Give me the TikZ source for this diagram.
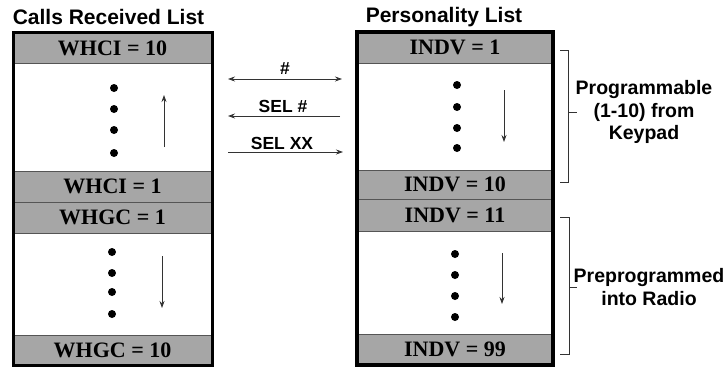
\documentclass[tikz,border=0pt]{standalone}
\usepackage{fontspec}
\setmainfont{Liberation Serif}
\setsansfont{Liberation Sans}
\usetikzlibrary{arrows.meta}
\definecolor{bandgray}{HTML}{A6A6A6}
\definecolor{sepgray}{HTML}{555555}
\begin{document}
\begin{tikzpicture}[x=1pt, y=-1pt]
	\tikzset{band/.style={draw=sepgray, thin, fill=bandgray, inner sep=0pt, font=\fontsize{22}{24}\selectfont\bfseries},
		ttl/.style={font=\fontsize{21}{24}\selectfont\sffamily\bfseries, inner sep=0pt},
		lbl/.style={font=\fontsize{17.5}{20}\selectfont\sffamily\bfseries, inner sep=0pt},
		note/.style={font=\fontsize{19.5}{22.5}\selectfont\sffamily\bfseries, align=center, inner sep=0pt},
		dt/.style={circle, fill=black, inner sep=0pt, minimum size=8pt},
		arr/.style={draw=black!80, line width=0.8pt, -{Stealth[length=7pt, width=5pt]}},
		brk/.style={draw=black!80, line width=0.8pt}};

	\useasboundingbox (0, 0) rectangle (725, 367);

	% titles
	\node[ttl] (calls) at (108.5, 17) {Calls Received List};
	\node[ttl] (pers) at (444, 17) {Personality List};

	% left list
	\node[band, minimum width=199pt, minimum height=30pt] (whci10) at (112.5, 48) {WHCI = 10};
	\node[band, minimum width=199pt, minimum height=31pt] (whci1) at (112.5, 186.5) {WHCI = 1};
	\node[band, minimum width=199pt, minimum height=31pt] (whgc1) at (112.5, 217.5) {WHGC = 1};
	\node[band, minimum width=199pt, minimum height=30pt] (whgc10) at (112.5, 350) {WHGC = 10};
	\draw[line width=3pt] (13, 32) rectangle (212, 365);

	% right list
	\node[band, minimum width=196pt, minimum height=31pt] (indv1) at (455, 47.5) {INDV = 1};
	\node[band, minimum width=196pt, minimum height=29pt] (indv10) at (455, 184.5) {INDV = 10};
	\node[band, minimum width=196pt, minimum height=32pt] (indv11) at (455, 215) {INDV = 11};
	\node[band, minimum width=196pt, minimum height=30pt] (indv99) at (455, 349) {INDV = 99};
	\draw[line width=3.5pt] (357, 32) rectangle (553, 365);

	% dots
	\foreach \y [count=\i] in {88, 109, 130, 153} \node[dt] (la\i) at (114, \y) {};
	\foreach \y [count=\i] in {252, 273, 292, 314} \node[dt] (lb\i) at (112, \y) {};
	\foreach \y [count=\i] in {85, 107, 128, 148} \node[dt] (ra\i) at (457, \y) {};
	\foreach \y [count=\i] in {254, 275, 296, 317} \node[dt] (rb\i) at (455, \y) {};

	% direction arrows
	\coordinate (lau) at (164, 147);
	\coordinate (lav) at (164, 95);
	\coordinate (lbu) at (162, 256);
	\coordinate (lbv) at (162, 308);
	\coordinate (rau) at (504, 90);
	\coordinate (rav) at (504, 142);
	\coordinate (rbu) at (502, 253);
	\coordinate (rbv) at (502, 304);
	\draw[arr] (lau) -- (lav);
	\draw[arr] (lbu) -- (lbv);
	\draw[arr] (rau) -- (rav);
	\draw[arr] (rbu) -- (rbv);

	% keys between lists
	\coordinate (h1) at (228, 79);
	\coordinate (h2) at (342, 79);
	\coordinate (s1) at (340, 116);
	\coordinate (s2) at (228, 116);
	\coordinate (x1) at (228, 152);
	\coordinate (x2) at (343, 152);
	\draw[arr, {Stealth[length=7pt, width=5pt]}-{Stealth[length=7pt, width=5pt]}] (h1) -- (h2);
	\draw[arr] (s1) -- (s2);
	\draw[arr] (x1) -- (x2);
	\node[lbl] (hash) at (285, 69) {\#};
	\node[lbl] (selhash) at (283, 106) {SEL \#};
	\node[lbl] (selxx) at (282, 143) {SEL XX};

	% brackets
	\coordinate (pa) at (560, 50);
	\coordinate (pb) at (568, 50);
	\coordinate (pc) at (568, 182);
	\coordinate (pd) at (560, 182);
	\coordinate (pm) at (568, 112);
	\coordinate (pn) at (577, 112);
	\draw[brk] (pa) -- (pb) -- (pc) -- (pd);
	\draw[brk] (pm) -- (pn);
	\coordinate (qa) at (560, 217);
	\coordinate (qb) at (569, 217);
	\coordinate (qc) at (569, 354);
	\coordinate (qd) at (560, 354);
	\coordinate (qm) at (569, 287);
	\coordinate (qn) at (577, 287);
	\draw[brk] (qa) -- (qb) -- (qc) -- (qd);
	\draw[brk] (qm) -- (qn);
	\node[note] (prog) at (644, 112) {Programmable\\(1-10) from\\Keypad};
	\node[note] (prepr) at (649, 287) {Preprogrammed\\into Radio};
\end{tikzpicture}
\end{document}
